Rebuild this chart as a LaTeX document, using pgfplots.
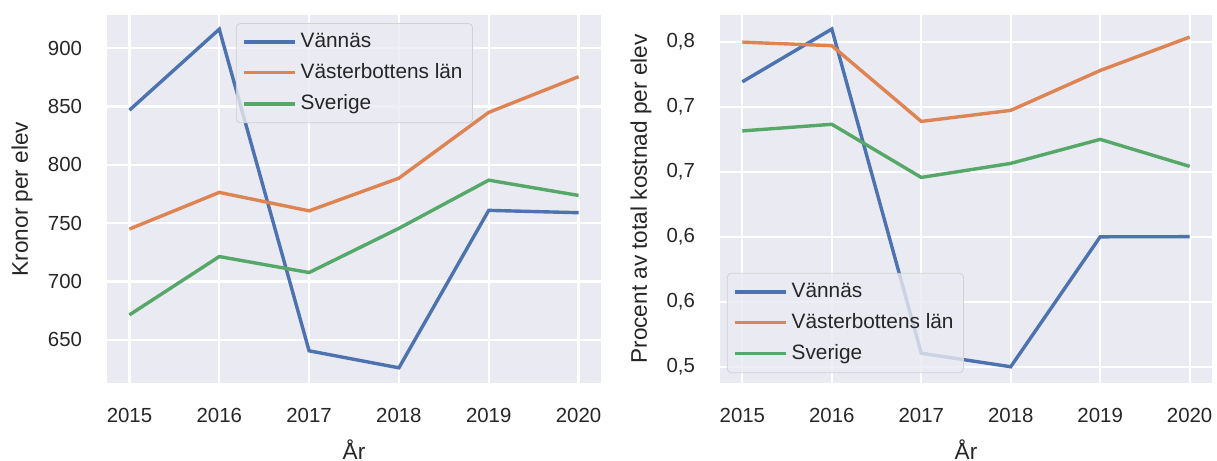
\documentclass[border=0pt]{standalone}
\usepackage{fontspec}
\setmainfont{Liberation Sans}
\usepackage{pgfplots}
\pgfplotsset{compat=1.18}
\definecolor{bgc}{HTML}{EAEAF2}
\definecolor{sblue}{HTML}{4C72B0}
\definecolor{sorange}{HTML}{DD8452}
\definecolor{sgreen}{HTML}{55A868}
\definecolor{txt}{HTML}{262626}
\newcommand{\labfont}{\fontsize{11.3bp}{13bp}\selectfont}
\pgfplotsset{
  sbstyle/.style={
    scale only axis, width=247bp, height=184bp,
    axis background/.style={fill=bgc},
    axis line style={draw=none},
    grid=major,
    major grid style={white, line width=1.1bp},
    major tick length=0pt,
    xmin=2014.75, xmax=2020.25,
    xtick={2015,2016,2017,2018,2019,2020},
    /pgf/number format/assume math mode=true,
    /pgf/number format/1000 sep={},
    tick label style={font=\fontsize{10.2bp}{12bp}\selectfont, text=txt},
    xticklabel style={yshift=-9bp},
    yticklabel style={xshift=-9bp},
    every axis x label/.style={at={(axis description cs:0.5,-0.18)}, anchor=center, font=\labfont, text=txt},
    legend cell align=left,
    legend image code/.code={\draw[##1, line width=1.7bp] (0bp,0bp) -- (22bp,0bp); \path (0bp,0bp) -- (25.5bp,0bp);},
    legend style={draw=black!18, fill=bgc, fill opacity=0.8, text opacity=1,
      rounded corners=2bp, font=\fontsize{10.4bp}{12bp}\selectfont, text=txt,
      inner xsep=3bp, inner ysep=3bp, row sep=2.5bp},
    every axis plot/.append style={line width=1.7bp},
  }
}
\begin{document}
\begin{tikzpicture}
\useasboundingbox (0,0) rectangle (608.5bp,230.5bp);
\begin{axis}[sbstyle,
  at={(53.5bp,39bp)}, anchor=south west,
  ymin=613, ymax=928.5,
  ytick={650,700,750,800,850,900},
  xlabel={År}, ylabel={Kronor per elev},
  every axis y label/.style={at={(axis description cs:-0.172,0.5)}, rotate=90, anchor=center, font=\labfont, text=txt},
  legend style={at={(0.261,0.978)}, anchor=north west},
]
\addplot[sblue] coordinates {(2015,846.9) (2016,916.3) (2017,640.6) (2018,626) (2019,761) (2020,759)};
\addplot[sorange] coordinates {(2015,745) (2016,776.4) (2017,760.6) (2018,788.6) (2019,845) (2020,875.6)};
\addplot[sgreen] coordinates {(2015,671.4) (2016,721.4) (2017,707.7) (2018,745.6) (2019,786.9) (2020,773.8)};
\legend{Vännäs, Västerbottens län, Sverige}
\end{axis}
\begin{axis}[sbstyle,
  at={(360bp,39bp)}, anchor=south west, width=246bp,
  ymin=0.4874, ymax=0.7706,
  ytick={0.5,0.55,0.6,0.65,0.7,0.75},
  yticklabels={{0,5},{0,6},{0,6},{0,7},{0,7},{0,8}},
  xlabel={År}, ylabel={Procent av total kostnad per elev},
  every axis y label/.style={at={(axis description cs:-0.1606,0.5)}, rotate=90, anchor=center, font=\labfont, text=txt},
  legend style={at={(0.014,0.027)}, anchor=south west},
]
\addplot[sblue] coordinates {(2015,0.7192) (2016,0.7598) (2017,0.5103) (2018,0.4999) (2019,0.5999) (2020,0.6)};
\addplot[sorange] coordinates {(2015,0.7497) (2016,0.747) (2017,0.6887) (2018,0.6972) (2019,0.7279) (2020,0.7536)};
\addplot[sgreen] coordinates {(2015,0.6814) (2016,0.6865) (2017,0.6456) (2018,0.6564) (2019,0.6749) (2020,0.6541)};
\legend{Vännäs, Västerbottens län, Sverige}
\end{axis}
\end{tikzpicture}
\end{document}
